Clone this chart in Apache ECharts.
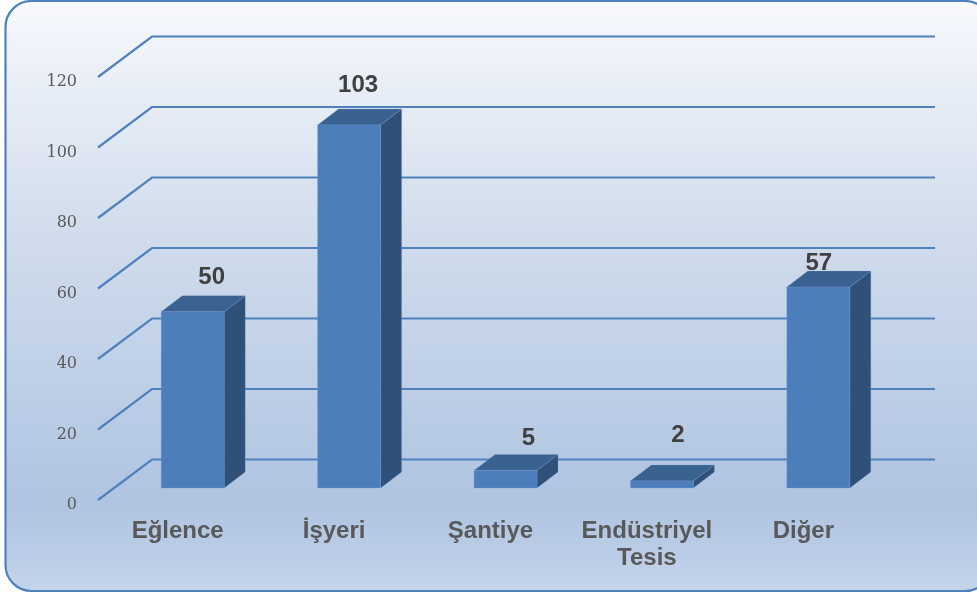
<!DOCTYPE html>
<html>
<head>
<meta charset="utf-8">
<style>html,body{margin:0;padding:0;background:#fff}#chart{width:977px;height:594px}</style>
<script src="https://cdn.jsdelivr.net/npm/echarts@6/dist/echarts.min.js"></script>
</head>
<body>
<div id="chart"></div>
<script>
// Accident counts by location, drawn as extruded columns on a receding wall grid.
const categories = ['Eğlence', 'İşyeri', 'Şantiye', 'Endüstriyel\nTesis', 'Diğer'];
const values = [50, 103, 5, 2, 57];
const gridTicks = [0, 20, 40, 60, 80, 100, 120];
// Hand-placed value labels: shift from the column's front-top centre.
const labelShift = [[19, -34], [9, -40], [23, -32], [16, -46], [0.5, -24]];

const WALL = { dx: 54, dy: -40.5 };  // floor depth of the chart box
const INSET = { dx: 16.5, dy: -12 }; // column offset from the front plane
const DEPTH = { dx: 21, dy: -16 };   // column depth
const BAR_WIDTH = 63;

const chart = echarts.init(document.getElementById('chart'), null, { renderer: 'canvas' });

function renderGridLine(params, api) {
  const rect = params.coordSys;
  const y = api.coord([0, api.value(0)])[1];
  return {
    type: 'polyline',
    shape: {
      points: [
        [rect.x, y],
        [rect.x + WALL.dx, y + WALL.dy],
        [rect.x + rect.width + WALL.dx + 1, y + WALL.dy]
      ]
    },
    style: { fill: 'none', stroke: '#4f81bd', lineWidth: 2.2 }
  };
}

function renderColumn(params, api) {
  const i = api.value(0);
  const base = api.coord([i, 0]);
  const top = api.coord([i, api.value(1)]);
  const x0 = base[0] - BAR_WIDTH / 2 + INSET.dx;
  const x1 = x0 + BAR_WIDTH;
  const yb = base[1] + INSET.dy;
  const yt = top[1] + INSET.dy;
  const edge = { stroke: 'rgba(120,155,205,0.3)', lineWidth: 1 };
  const shift = labelShift[i];
  return {
    type: 'group',
    children: [
      {
        type: 'polygon',
        shape: { points: [[x1, yb], [x1 + DEPTH.dx, yb + DEPTH.dy], [x1 + DEPTH.dx, yt + DEPTH.dy], [x1, yt]] },
        style: Object.assign({ fill: '#2f5078' }, edge)
      },
      {
        type: 'polygon',
        shape: { points: [[x0, yt], [x0 + DEPTH.dx, yt + DEPTH.dy], [x1 + DEPTH.dx, yt + DEPTH.dy], [x1, yt]] },
        style: Object.assign({ fill: '#3a6291' }, edge)
      },
      {
        type: 'rect',
        shape: { x: x0, y: yt, width: BAR_WIDTH, height: yb - yt },
        style: Object.assign({ fill: '#4c7ebc' }, edge)
      },
      {
        type: 'text',
        style: {
          x: (x0 + x1) / 2 + shift[0],
          y: yt + shift[1],
          text: String(api.value(1)),
          fill: '#404040',
          font: 'bold 24px "Liberation Sans"',
          align: 'center',
          verticalAlign: 'middle'
        }
      }
    ]
  };
}

chart.setOption({
  animation: false,
  graphic: [{
    type: 'rect',
    z: -10,
    silent: true,
    shape: { x: 5.5, y: 1, width: 985.5, height: 590, r: 26 },
    style: {
      stroke: '#4f81bd',
      lineWidth: 2.2,
      fill: {
        type: 'linear', x: 0, y: 0, x2: 0, y2: 1,
        colorStops: [
          { offset: 0, color: '#f7f9fd' },
          { offset: 0.4, color: '#d0dcec' },
          { offset: 0.85, color: '#afc4e1' },
          { offset: 1, color: '#c4d4ea' }
        ]
      }
    }
  }],
  grid: { left: 98, right: 97, top: 77, bottom: 94 },
  xAxis: {
    type: 'category',
    data: categories,
    axisLine: { show: false },
    axisTick: { show: false },
    axisLabel: {
      margin: 18,
      interval: 0,
      color: '#595959',
      fontFamily: 'Liberation Sans',
      fontWeight: 'bold',
      fontSize: 24,
      lineHeight: 27,
      padding: [0, 0, 0, 3]
    }
  },
  yAxis: {
    type: 'value',
    min: 0,
    max: 120,
    interval: 20,
    axisLine: { show: false },
    axisTick: { show: false },
    splitLine: { show: false },
    axisLabel: {
      margin: 21,
      color: '#595959',
      fontFamily: 'DejaVu Serif',
      fontSize: 16,
      verticalAlign: 'top',
      lineHeight: 10
    }
  },
  series: [
    {
      type: 'custom',
      z: 1,
      silent: true,
      renderItem: renderGridLine,
      data: gridTicks.map(v => [v]),
      encode: { y: 0 }
    },
    {
      type: 'custom',
      z: 2,
      silent: true,
      renderItem: renderColumn,
      data: values.map((v, i) => [i, v]),
      encode: { x: 0, y: 1 }
    }
  ]
});
</script>
</body>
</html>
